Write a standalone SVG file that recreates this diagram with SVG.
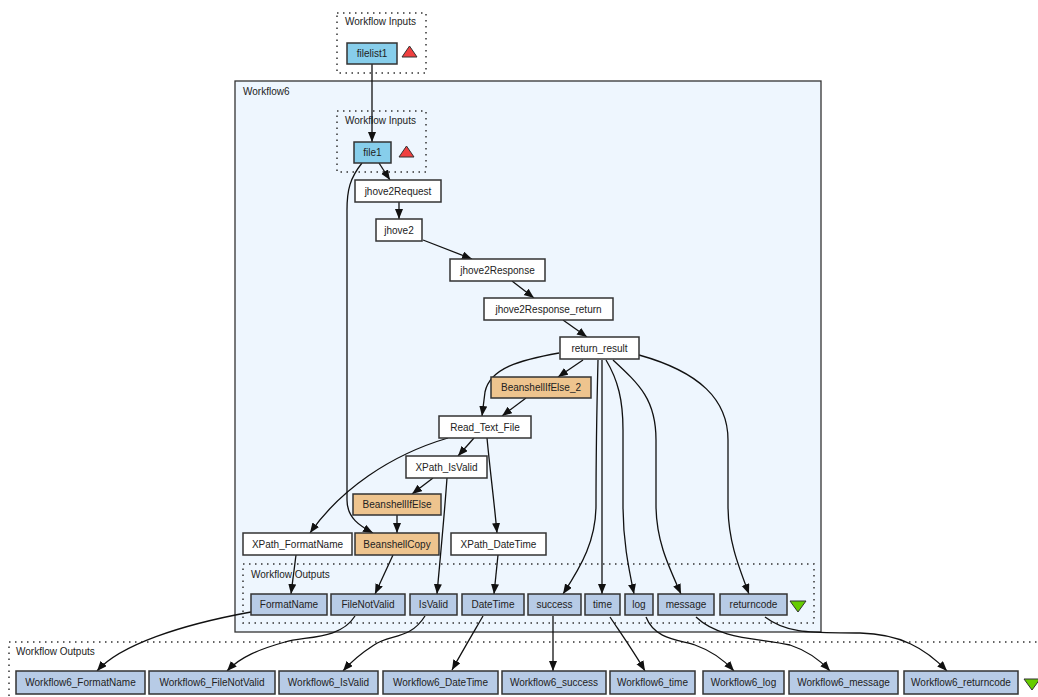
<svg xmlns="http://www.w3.org/2000/svg" width="1038" height="697" viewBox="0 0 1038 697">
  <style>
    text { font-family: "Liberation Sans", Arial, sans-serif; font-size: 10px; fill: #222; }
    .lbl { text-anchor: middle; }
    .box { stroke: #333; stroke-width: 1.5; }
    .plain { fill: #ffffff; }
    .inport { fill: #87ceeb; }
    .bean { fill: #eec48e; }
    .outport { fill: #b7cbe6; }
    .cluster { fill: none; stroke: #333; stroke-width: 1.5; stroke-dasharray: 1.5 4.5; }
    .edge { fill: none; stroke: #111; stroke-width: 1.3; marker-end: url(#arrow); }
    .upTri { fill: #f04040; stroke: #333; stroke-width: 1; }
    .downTri { fill: #66cc00; stroke: #333; stroke-width: 1; }
  </style>
  <defs>
    <marker id="arrow" markerUnits="userSpaceOnUse" markerWidth="12" markerHeight="10" refX="10" refY="4" orient="auto">
      <path d="M0,0 L10,4 L0,8 Z" fill="#111"/>
    </marker>
  </defs>

  <rect width="1038" height="697" fill="#ffffff"/>

  <!-- top-level workflow inputs -->
  <g id="top-inputs">
    <rect class="cluster" x="337" y="13" width="89" height="60"/>
    <text x="345" y="25">Workflow Inputs</text>
  </g>

  <!-- nested workflow frame -->
  <g id="workflow6">
    <rect x="235" y="81" width="586" height="551" fill="#eef6fe" stroke="#333" stroke-width="1.3"/>
    <text x="243" y="95">Workflow6</text>
  </g>

  <g id="inner-inputs">
    <rect class="cluster" x="337" y="111" width="89" height="61"/>
    <text x="345" y="124">Workflow Inputs</text>
  </g>

  <g id="inner-outputs">
    <rect class="cluster" x="243" y="564" width="571" height="59"/>
    <text x="251" y="578">Workflow Outputs</text>
  </g>

  <g id="top-outputs">
    <rect class="cluster" x="9" y="642" width="1040" height="70"/>
    <text x="16" y="655">Workflow Outputs</text>
  </g>

  <!-- connectors -->
  <g id="connectors">
    <path class="edge" d="M372,64 L372,142"/>
    <path class="edge" d="M379,163 L390,180"/>
    <path class="edge" d="M362,163 C350,178 347,190 347,210 L347,500 C347,518 360,526 373,533"/>
    <path class="edge" d="M399,202 L399,219"/>
    <path class="edge" d="M423,240 L472,259"/>
    <path class="edge" d="M512,281 L534,298"/>
    <path class="edge" d="M563,320 L587,337"/>
    <path class="edge" d="M583,360 L558,377"/>
    <path class="edge" d="M559,353 C520,360 490,368 485,392 L482,416"/>
    <path class="edge" d="M526,398 L502,416"/>
    <path class="edge" d="M598,360 C597,400 596,440 596,505 C596,540 582,565 563,594"/>
    <path class="edge" d="M602,360 L602,594"/>
    <path class="edge" d="M606,360 C618,380 623,400 623,430 L623,505 C623,540 628,565 634,594"/>
    <path class="edge" d="M613,360 C640,385 656,400 656,440 L656,505 C656,540 668,565 681,594"/>
    <path class="edge" d="M639,355 C700,372 728,400 728,440 L728,505 C728,540 738,565 749,594"/>
    <path class="edge" d="M474,438 L458,456"/>
    <path class="edge" d="M448,438 C390,455 340,490 310,533"/>
    <path class="edge" d="M487,438 C490,470 494,500 497,533"/>
    <path class="edge" d="M433,478 L412,494"/>
    <path class="edge" d="M447,478 C444,520 440,560 437,594"/>
    <path class="edge" d="M397,515 L397,533"/>
    <path class="edge" d="M296,555 L291,594"/>
    <path class="edge" d="M393,555 L375,594"/>
    <path class="edge" d="M498,555 L494,594"/>
    <path class="edge" d="M251,612 C180,625 120,645 97,671"/>
    <path class="edge" d="M355,616 C340,640 305,636 285,642 C260,649 240,657 227,671"/>
    <path class="edge" d="M425,616 C410,640 390,634 374,645 C360,654 351,662 343,671"/>
    <path class="edge" d="M483,616 C472,635 462,652 452,670"/>
    <path class="edge" d="M553,616 L553,671"/>
    <path class="edge" d="M610,617 C622,635 634,652 645,671"/>
    <path class="edge" d="M646,617 C655,640 680,640 695,645 C712,651 724,660 734,671"/>
    <path class="edge" d="M696,617 C720,640 760,638 790,645 C808,651 820,660 830,671"/>
    <path class="edge" d="M765,617 C790,636 820,632 860,633 C900,634 925,648 947,671"/>
  </g>

  <!-- input ports -->
  <g id="filelist1">
    <rect class="box inport" x="347" y="43" width="50" height="21"/>
    <text class="lbl" x="372" y="57">filelist1</text>
    <polygon class="upTri" points="402,57 417,57 409.5,46"/>
  </g>
  <g id="file1">
    <rect class="box inport" x="354" y="142" width="37" height="21"/>
    <text class="lbl" x="372.5" y="156">file1</text>
    <polygon class="upTri" points="399,157 414,157 406.5,146"/>
  </g>

  <!-- processors -->
  <g id="jhove2Request">
    <rect class="box plain" x="355" y="180" width="86" height="22"/>
    <text class="lbl" x="398" y="195">jhove2Request</text>
  </g>
  <g id="jhove2">
    <rect class="box plain" x="376" y="219" width="46" height="22"/>
    <text class="lbl" x="399" y="234">jhove2</text>
  </g>
  <g id="jhove2Response">
    <rect class="box plain" x="450" y="259" width="95" height="22"/>
    <text class="lbl" x="497.5" y="274">jhove2Response</text>
  </g>
  <g id="jhove2Response_return">
    <rect class="box plain" x="484" y="298" width="129" height="22"/>
    <text class="lbl" x="548.5" y="313">jhove2Response_return</text>
  </g>
  <g id="return_result">
    <rect class="box plain" x="560" y="337" width="79" height="22"/>
    <text class="lbl" x="599.5" y="352">return_result</text>
  </g>
  <g id="BeanshellIfElse_2">
    <rect class="box bean" x="491" y="377" width="100" height="21"/>
    <text class="lbl" x="541" y="391">BeanshellIfElse_2</text>
  </g>
  <g id="Read_Text_File">
    <rect class="box plain" x="439" y="416" width="92" height="22"/>
    <text class="lbl" x="485" y="431">Read_Text_File</text>
  </g>
  <g id="XPath_IsValid">
    <rect class="box plain" x="406" y="456" width="81" height="22"/>
    <text class="lbl" x="446.5" y="471">XPath_IsValid</text>
  </g>
  <g id="BeanshellIfElse">
    <rect class="box bean" x="353" y="494" width="88" height="21"/>
    <text class="lbl" x="397" y="508">BeanshellIfElse</text>
  </g>
  <g id="XPath_FormatName">
    <rect class="box plain" x="243" y="533" width="109" height="22"/>
    <text class="lbl" x="297.5" y="548">XPath_FormatName</text>
  </g>
  <g id="BeanshellCopy">
    <rect class="box bean" x="355" y="533" width="84" height="22"/>
    <text class="lbl" x="397" y="548">BeanshellCopy</text>
  </g>
  <g id="XPath_DateTime">
    <rect class="box plain" x="451" y="533" width="95" height="22"/>
    <text class="lbl" x="498.5" y="548">XPath_DateTime</text>
  </g>

  <!-- nested output ports -->
  <g id="out-FormatName">
    <rect class="box outport" x="251" y="594" width="76" height="21"/>
    <text class="lbl" x="289" y="608">FormatName</text>
  </g>
  <g id="out-FileNotValid">
    <rect class="box outport" x="331" y="594" width="74" height="21"/>
    <text class="lbl" x="368" y="608">FileNotValid</text>
  </g>
  <g id="out-IsValid">
    <rect class="box outport" x="410" y="594" width="47" height="21"/>
    <text class="lbl" x="433.5" y="608">IsValid</text>
  </g>
  <g id="out-DateTime">
    <rect class="box outport" x="462" y="594" width="62" height="21"/>
    <text class="lbl" x="493" y="608">DateTime</text>
  </g>
  <g id="out-success">
    <rect class="box outport" x="528" y="594" width="53" height="21"/>
    <text class="lbl" x="554.5" y="608">success</text>
  </g>
  <g id="out-time">
    <rect class="box outport" x="585" y="594" width="35" height="21"/>
    <text class="lbl" x="602.5" y="608">time</text>
  </g>
  <g id="out-log">
    <rect class="box outport" x="625" y="594" width="28" height="21"/>
    <text class="lbl" x="639" y="608">log</text>
  </g>
  <g id="out-message">
    <rect class="box outport" x="658" y="594" width="56" height="21"/>
    <text class="lbl" x="686" y="608">message</text>
  </g>
  <g id="out-returncode">
    <rect class="box outport" x="720" y="594" width="67" height="21"/>
    <text class="lbl" x="753.5" y="608">returncode</text>
    <polygon class="downTri" points="790,601 806,601 798,612"/>
  </g>

  <!-- top-level output ports -->
  <g id="Workflow6_FormatName">
    <rect class="box outport" x="16" y="671" width="129" height="23"/>
    <text class="lbl" x="80.5" y="686">Workflow6_FormatName</text>
  </g>
  <g id="Workflow6_FileNotValid">
    <rect class="box outport" x="149" y="671" width="126" height="23"/>
    <text class="lbl" x="212" y="686">Workflow6_FileNotValid</text>
  </g>
  <g id="Workflow6_IsValid">
    <rect class="box outport" x="279" y="671" width="99" height="23"/>
    <text class="lbl" x="328.5" y="686">Workflow6_IsValid</text>
  </g>
  <g id="Workflow6_DateTime">
    <rect class="box outport" x="383" y="671" width="115" height="23"/>
    <text class="lbl" x="440.5" y="686">Workflow6_DateTime</text>
  </g>
  <g id="Workflow6_success">
    <rect class="box outport" x="502" y="671" width="104" height="23"/>
    <text class="lbl" x="554" y="686">Workflow6_success</text>
  </g>
  <g id="Workflow6_time">
    <rect class="box outport" x="610" y="671" width="85" height="23"/>
    <text class="lbl" x="652.5" y="686">Workflow6_time</text>
  </g>
  <g id="Workflow6_log">
    <rect class="box outport" x="703" y="671" width="81" height="23"/>
    <text class="lbl" x="743.5" y="686">Workflow6_log</text>
  </g>
  <g id="Workflow6_message">
    <rect class="box outport" x="789" y="671" width="109" height="23"/>
    <text class="lbl" x="843.5" y="686">Workflow6_message</text>
  </g>
  <g id="Workflow6_returncode">
    <rect class="box outport" x="904" y="671" width="114" height="23"/>
    <text class="lbl" x="961" y="686">Workflow6_returncode</text>
    <polygon class="downTri" points="1024,679 1040,679 1032,690"/>
  </g>
</svg>
